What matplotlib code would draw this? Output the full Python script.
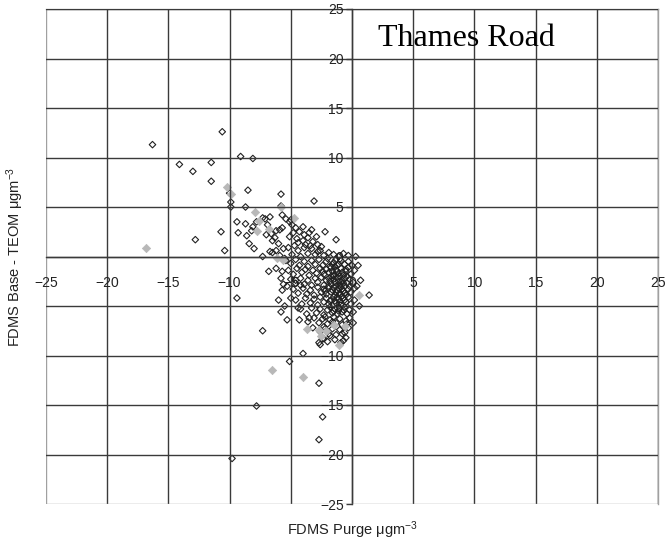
import numpy as np
import matplotlib.pyplot as plt

plt.rcParams['font.family'] = ['Liberation Sans', 'DejaVu Sans']
plt.rcParams['mathtext.default'] = 'regular'

# FDMS purge (x) vs FDMS base - TEOM (y), open markers
purge = [-16.3, -10.6, -14.1, -13.0, -11.5, -11.5, -9.1, -8.1, -12.8, -10.7,
         -10.4, -10.0, -9.9, -9.9, -8.5, -8.7, -9.4, -8.7, -9.3, -8.6,
         -8.4, -8.0, -8.1, -8.2, -7.1, -6.7, -7.3, -6.7, -6.8, -5.8,
         -5.8, -5.7, -5.4, -5.1, -6.6, -6.2, -5.9, -5.7, -6.3, -6.5,
         -6.2, -6.5, -3.1, -2.2, -1.3, -2.8, -9.4, -7.3, -5.8, -5.3,
         -4.3, -5.0, -4.4, -3.5, -4.0, -5.1, -2.7, -7.8, -2.4, -2.7,
         -9.8, 0.7, 1.4, -2.3, -2.7, -0.7, -0.8, -0.4, -2.2, -1.8,
         -5.7, -5.7, -5.6, -4.6, -4.2,
         -4.8, -4.3, -3.9, -3.5, -4.5, -4.0, -3.6, -3.2, -2.9,
         -5.2, -4.7, -4.4, -3.9, -3.6, -3.3, -3.0, -2.6, -2.3, -1.9, -1.5, -1.1, -0.7, -0.3, 0.3, -4.9, -4.2,
         -5.4, -5.0, -4.6, -4.3, -3.9, -3.6, -3.3, -3.0, -2.7, -2.4, -2.1, -1.8, -1.5, -1.2, -0.9, -0.6, -0.3, 0.0, -2.0, -1.3,
         -5.2, -4.8, -4.5, -4.1, -3.8, -3.5, -3.2, -2.9, -2.6, -2.3, -2.1, -1.9, -1.7, -1.5, -1.3, -1.1, -0.9, -0.7, -0.5, -0.3, -0.1, 0.2, -1.6, -0.8,
         -5.0, -4.6, -4.2, -3.9, -3.6, -3.3, -3.0, -2.8, -2.5, -2.3, -2.1, -1.9, -1.7, -1.5, -1.4, -1.2, -1.0, -0.8, -0.6, -0.4, -0.2, 0.1, -1.8, -1.1, -0.7,
         -4.8, -4.4, -4.0, -3.7, -3.4, -3.1, -2.8, -2.5, -2.3, -2.1, -1.9, -1.7, -1.5, -1.4, -1.2, -1.0, -0.9, -0.7, -0.5, -0.3, -0.1, 0.2, -1.6, -1.3, -0.8, -0.6,
         -4.6, -4.1, -3.8, -3.4, -3.1, -2.8, -2.6, -2.3, -2.1, -1.9, -1.7, -1.5, -1.3, -1.1, -0.9, -0.7, -0.5, -0.3, -0.1, 0.2, -1.4, -1.0, -0.6, -1.8,
         -4.2, -3.7, -3.3, -2.9, -2.6, -2.3, -2.0, -1.8, -1.6, -1.4, -1.2, -1.0, -0.8, -0.6, -0.4, -0.2, 0.1, -1.5, -1.1, -0.7,
         -3.6, -3.1, -2.7, -2.4, -2.0, -1.8, -1.5, -1.3, -1.0, -0.8, -0.5, -0.2, 0.1, -1.6, -2.2,
         -3.2, -2.6, -2.3, -1.9, -1.6, -1.3, -1.0, -0.6, -0.3, -2.4, -2.0, -1.4, -0.9, -0.5, -2.6,
         -1.4, -1.2, -1.0, -0.9, -1.3, -1.1, -1.0, -0.8, -1.2, -1.5, -0.6, -0.4, -1.7, -1.9, -2.2, -0.5, -1.1, -1.6, -2.4, -0.2,
         -4.9, -4.6, -5.1, -4.4, -3.8, -3.4, -2.8, -2.5, -4.0, -3.3, -5.0,
         -7.8, -7.3, -6.9, -7.0, -6.0, -5.6, -5.9, -5.5, -6.2, -5.8, -5.3, -6.0, -5.5,
         0.5, 0.4, 0.6]
base = [11.3, 12.6, 9.3, 8.6, 9.5, 7.6, 10.1, 9.9, 1.7, 2.5,
        0.6, 6.4, 5.5, 5.0, 6.7, 5.0, 3.5, 3.3, 2.4, 2.1,
        1.3, 0.8, 3.0, 2.6, 3.8, 4.0, 0.0, 0.5, -1.5, 6.3,
        5.1, 4.2, 3.8, 3.5, 2.3, 2.6, 2.7, 2.9, 1.9, 1.6,
        0.6, 0.4, 5.6, 2.5, 1.7, 0.5, -4.2, -7.5, -5.6, -6.4,
        -6.4, -4.2, -5.2, -6.2, -9.8, -10.6, -12.8, -15.1, -16.2, -18.5,
        -20.4, -2.4, -3.9, -8.3, -8.7, -8.5, -7.8, -6.8, -7.3, -8.0,
        -1.5, -3.4, -2.8, -2.4, -2.9,
        2.4, 2.5, 2.2, 2.4, 1.8, 1.6, 1.9, 1.5, 2.0,
        0.9, 1.1, 0.6, 0.9, 0.3, 0.8, 0.2, 0.6, 0.1, 0.4, 0.2, 0.0, 0.3, 0.1, 0.0, 0.2, 0.0,
        -0.4, -0.7, -0.3, -0.9, -0.5, -1.0, -0.4, -0.8, -0.3, -0.9, -0.5, -1.0, -0.6, -0.9, -0.4, -0.8, -0.5, -0.9, -0.2, -0.3,
        -1.4, -1.8, -1.2, -1.6, -1.3, -1.9, -1.4, -1.7, -1.2, -1.8, -1.3, -1.6, -1.1, -1.9, -1.4, -1.7, -1.2, -1.9, -1.5, -1.1, -1.8, -1.4, -1.5, -1.6,
        -2.3, -2.7, -2.2, -2.8, -2.4, -2.9, -2.2, -2.6, -2.1, -2.9, -2.4, -2.2, -2.8, -2.3, -2.6, -2.1, -2.9, -2.4, -2.2, -2.7, -2.3, -2.6, -2.5, -2.5, -2.7,
        -3.3, -3.7, -3.2, -3.8, -3.4, -3.9, -3.1, -3.6, -3.3, -3.8, -3.2, -3.6, -3.1, -3.9, -3.4, -3.7, -3.1, -3.5, -3.9, -3.3, -3.6, -3.2, -3.4, -3.6, -3.3, -3.7,
        -4.4, -4.8, -4.2, -4.7, -4.3, -4.9, -4.1, -4.6, -4.2, -4.8, -4.4, -4.1, -4.7, -4.3, -4.9, -4.2, -4.6, -4.1, -4.8, -4.4, -4.5, -4.6, -4.4, -4.5,
        -5.3, -5.8, -5.2, -5.7, -5.3, -5.9, -5.4, -5.1, -5.7, -5.3, -5.8, -5.2, -5.6, -5.1, -5.8, -5.4, -5.6, -5.5, -5.5, -5.4,
        -6.6, -6.2, -6.7, -6.3, -6.8, -6.4, -6.1, -6.7, -6.3, -6.9, -6.5, -6.2, -6.7, -6.6, -6.1,
        -7.2, -7.6, -7.1, -7.8, -7.3, -7.9, -7.4, -7.7, -7.2, -8.3, -8.6, -8.4, -8.7, -8.2, -8.9,
        -1.0, -1.5, -2.0, -2.6, -3.0, -3.2, -3.9, -4.0, -4.1, -2.0, -3.0, -2.0, -2.0, -3.0, -3.5, -1.3, -0.8, -0.8, -1.5, -3.0,
        3.2, 2.9, 2.0, 1.4, 1.2, 1.1, 1.2, 1.0, 3.0, 2.7, 3.7,
        3.5, 3.9, 3.2, 2.2, 1.3, 0.8, 0.1, -0.2, -1.2, -2.2, -3.0, -4.4, -5.0,
        -0.9, -3.0, -5.0]

# grey filled markers
purge_grey = [-16.8, -10.2, -9.9, -7.9, -7.6, -7.8, -5.8, -6.1, -5.6, -3.7,
              -2.7, -2.5, -1.1, 0.6, -6.5, -4.0, -0.6, -1.5, -2.1, -4.7, -6.8]
base_grey = [0.9, 7.0, 6.3, 4.5, 3.6, 2.6, 5.0, -0.2, -0.4, -7.3,
             -7.4, -8.0, -8.9, -3.9, -11.5, -12.2, -7.0, -6.9, -7.5, 3.9, 2.8]

ticks = list(range(-25, 30, 5))

fig = plt.figure(figsize=(6.69, 5.49), dpi=100)
ax = fig.add_axes([46 / 669, 1 - 504 / 549, 612 / 669, 495 / 549])

ax.set_xlim(-25, 25)
ax.set_ylim(-25, 25)
ax.set_xticks(ticks)
ax.set_yticks(ticks)
ax.grid(True, color='#3a3a3a', linewidth=1.0)
ax.set_axisbelow(False)

ax.spines['left'].set_position(('data', 0))
ax.spines['bottom'].set_position(('data', 0))
for s in ['left', 'bottom']:
    ax.spines[s].set_color('#3a3a3a')
    ax.spines[s].set_linewidth(1.0)
for s in ['top', 'right']:
    ax.spines[s].set_color('#a0a0a0')
    ax.spines[s].set_linewidth(1.0)
# outer border lines lighter
ax.get_xgridlines()[0].set_color('#a0a0a0')
ax.get_ygridlines()[0].set_color('#a0a0a0')

ax.tick_params(axis='x', length=0, pad=14, labelsize=10, labelcolor='#222222')
ax.tick_params(axis='y', length=4, width=1.0, color='#3a3a3a', pad=2,
               labelsize=10, labelcolor='#222222')

ax.scatter(purge, base, marker='D', s=11, facecolors='none',
           edgecolors='#222222', linewidths=0.8, zorder=2)
ax.scatter(purge_grey, base_grey, marker='D', s=18, facecolors='#b8b8b8',
           edgecolors='#b8b8b8', linewidths=0.5, zorder=2.2)

ax.set_xlabel('FDMS Purge μgm$^{-3}$', fontsize=10.5, color='#222222')
ax.set_ylabel('FDMS Base - TEOM μgm$^{-3}$', fontsize=10.5, color='#222222')
ax.xaxis.set_label_coords(0.5, -0.0525)
ax.xaxis.label.set_va('center')
ax.yaxis.set_label_coords(-0.0507, 0.5)
ax.yaxis.label.set_va('center')

ax.text(2.1, 21.3, 'Thames Road', family='Liberation Serif', fontsize=23,
        ha='left', va='baseline', color='black', zorder=5)

plt.savefig('out.png', dpi=100)
